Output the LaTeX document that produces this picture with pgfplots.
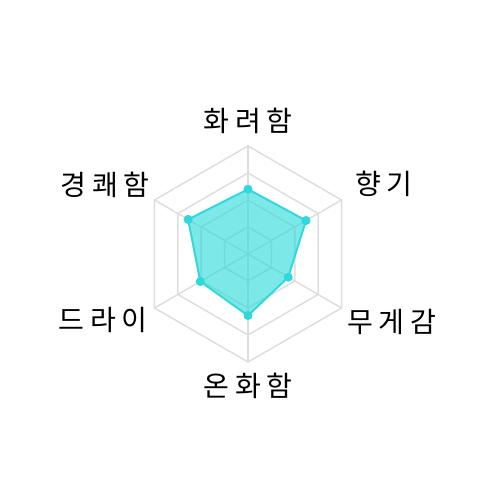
\documentclass[border=0pt]{standalone}
\usepackage{fontspec}
\usepackage{pgfplots}
\pgfplotsset{compat=1.18}
\newfontfamily\kr[LetterSpace=20]{Noto Sans CJK KR}

\definecolor{gridc}{HTML}{DEDEDE}
\definecolor{radar}{HTML}{26D9D9}
\definecolor{radarline}{HTML}{2ED8DC}
\tikzset{lbl/.style={font=\kr\fontsize{16}{18}\selectfont, inner sep=0pt}}

\begin{document}
\begin{tikzpicture}
\begin{axis}[
    width=10cm, height=10cm, scale only axis,
    xmin=-229.6, xmax=233.3, ymin=-227.8, ymax=235.2,
    hide axis, clip=false,
]
\draw[draw=none] (axis cs:-229.6,-227.8) rectangle (axis cs:233.3,235.2);
% rings
\foreach \r in {25,50,75,100} {
  \edef\tmp{\noexpand\addplot[data cs=polar, draw=gridc, line width=0.85pt]
    coordinates {(90,\r) (30,\r) (-30,\r) (-90,\r) (210,\r) (150,\r)} --cycle;}
  \tmp
}
% spokes
\foreach \a in {90,30,-30,-90,210,150} {
  \edef\tmp{\noexpand\addplot[data cs=polar, draw=gridc, line width=0.85pt]
    coordinates {(\a,0) (\a,100)};}
  \tmp
}
% data
\addplot[data cs=polar, fill=radar, fill opacity=0.6, draw=radarline,
  line width=1.1pt, line join=round,
  mark=*, mark size=2pt, mark options={fill=radarline, draw=radarline, fill opacity=1}]
  coordinates {(90,60) (30,62) (-30,43) (-90,57) (210,51) (150,64)} --cycle;

\node[lbl, anchor=center] at (axis cs:0,123) {화려함};
\node[lbl, anchor=west] at (axis cs:99,64.8) {향기};
\node[lbl, anchor=west] at (axis cs:91.5,-63) {무게감};
\node[lbl, anchor=center] at (axis cs:0,-122.2) {온화함};
\node[lbl, anchor=east] at (axis cs:-92.6,-61.1) {드라이};
\node[lbl, anchor=east] at (axis cs:-90.7,63.9) {경쾌함};
\end{axis}
\end{tikzpicture}
\end{document}
